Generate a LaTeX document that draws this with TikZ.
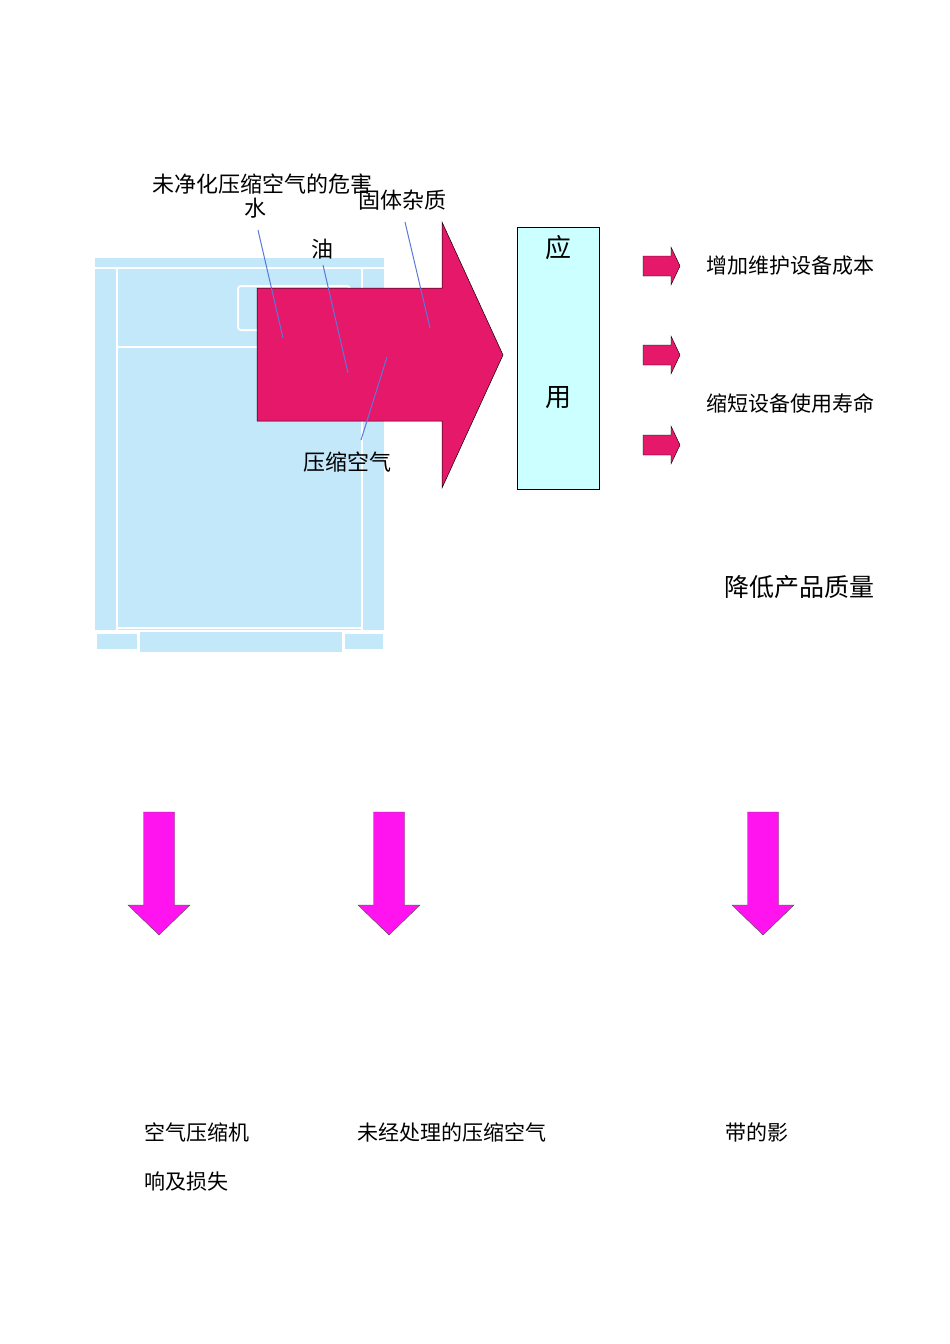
\documentclass[tikz,border=0pt]{standalone}
\usepackage{fontspec}
\setmainfont{Noto Sans CJK SC}
\definecolor{mach}{HTML}{C2E8FA}
\definecolor{bigred}{HTML}{E5186A}
\definecolor{appbg}{HTML}{CCFFFF}
\definecolor{mag}{HTML}{FF14F0}
\definecolor{lineblue}{HTML}{5A78D8}
\tikzset{
  lbl/.style={inner sep=0pt,font=\fontsize{22}{24}\selectfont},
  rlbl/.style={inner sep=0pt,anchor=west,font=\fontsize{21}{24}\selectfont},
  lead/.style={draw=lineblue,line width=1pt},
  smallarr/.style={fill=bigred,draw=black,line width=0.4pt},
  downarr/.style={fill=mag,draw=black!70,line width=0.4pt}
}
\begin{document}
\begin{tikzpicture}[x=1pt,y=-1pt]
\useasboundingbox (0,0) rectangle (950,1344);
% machine
\fill[mach] (95,258) rectangle (384,630);
\draw[white,line width=2pt] (95,268)--(384,268);
\draw[white,line width=2pt] (117,268)--(117,630);
\draw[white,line width=2pt] (362,268)--(362,630);
\draw[white,line width=2pt] (117,347)--(362,347);
\draw[white,line width=2pt] (117,628)--(362,628);
\draw[white,line width=2pt,rounded corners=3pt] (238,286) rectangle (350,330);
\fill[mach] (97,634) rectangle (137,649);
\fill[mach] (140,632) rectangle (342,652);
\fill[mach] (345,634) rectangle (383,649);
% big arrow
\draw[fill=bigred,draw=black,line width=0.5pt] (257,288)--(442,288)--(442,222)--(503,355)--(442,488)--(442,421)--(257,421)--cycle;
% leader lines
\coordinate (w1) at (258,230); \coordinate (w2) at (283,338);
\coordinate (o1) at (323,265); \coordinate (o2) at (348,373);
\coordinate (s1) at (405,222); \coordinate (s2) at (430,328);
\coordinate (a1) at (387,357); \coordinate (a2) at (361,440);
\draw[lead] (w1)--(w2); \draw[lead] (o1)--(o2); \draw[lead] (s1)--(s2); \draw[lead] (a1)--(a2);
\node[lbl] (t0) at (262,184) {未净化压缩空气的危害};
\node[lbl] (tw) at (255,208) {水};
\node[lbl] (ts) at (402,200) {固体杂质};
\node[lbl] (to) at (322,249) {油};
\node[lbl] (ta) at (347,462) {压缩空气};
% app box
\node[draw=black,fill=appbg,line width=0.6pt,minimum width=82pt,minimum height=262pt,inner sep=0pt] (app) at (558,358) {};
\node[lbl,font=\fontsize{26}{28}\selectfont] (y1) at (558,248) {应};
\node[lbl,font=\fontsize{26}{28}\selectfont] (y2) at (558,398) {用};
% small arrows
\foreach \c in {266,355,445}{
  \draw[smallarr] (643,\c-10)--(671,\c-10)--(671,\c-19)--(680,\c)--(671,\c+19)--(671,\c+10)--(643,\c+10)--cycle;
}
\node[rlbl] (r1) at (706,266) {增加维护设备成本};
\node[rlbl] (r2) at (706,403) {缩短设备使用寿命};
\node[rlbl,font=\fontsize{25}{28}\selectfont] (r3) at (724,587) {降低产品质量};
% down arrows
\foreach \x in {159,389,763}{
  \draw[downarr] (\x-15.5,812)--(\x+15.5,812)--(\x+15.5,905)--(\x+31,905)--(\x,935)--(\x-31,905)--(\x-15.5,905)--cycle;
}
\node[rlbl] (b1) at (144,1132) {空气压缩机};
\node[rlbl] (b2) at (357,1132) {未经处理的压缩空气};
\node[rlbl] (b3) at (725,1132) {带的影};
\node[rlbl] (b4) at (144,1182) {响及损失};
\end{tikzpicture}
\end{document}
